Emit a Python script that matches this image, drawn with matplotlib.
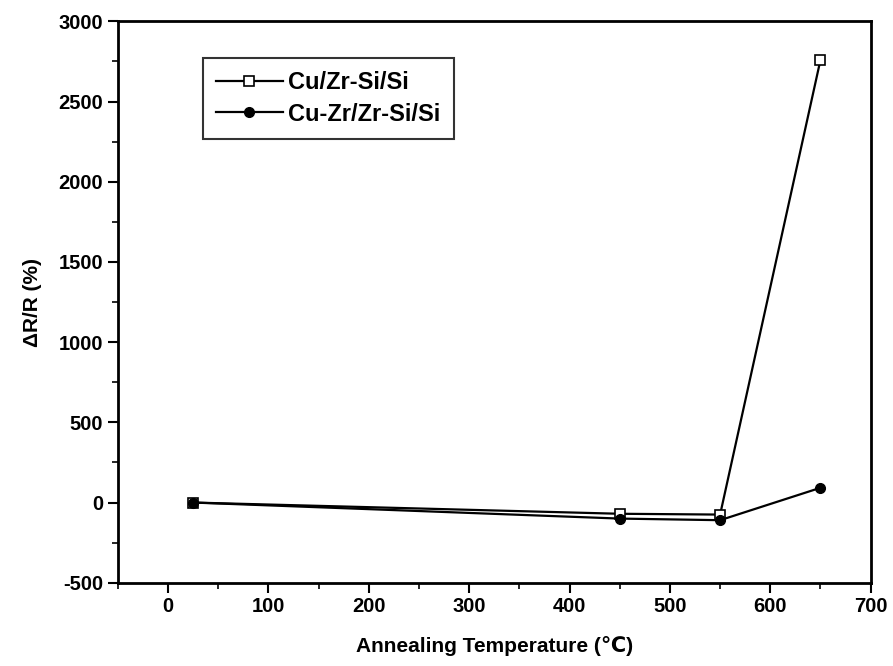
import matplotlib.pyplot as plt
from matplotlib.ticker import MultipleLocator

plt.rcParams['font.family'] = ['Liberation Sans', 'DejaVu Sans']
plt.rcParams['font.weight'] = 'bold'
plt.rcParams['axes.unicode_minus'] = False

# annealing temperatures and resistance change
temps = [25, 450, 550, 650]
cu_zrsi = [0, -70, -75, 2760]
cuzr_zrsi = [0, -100, -110, 92]

fig = plt.figure(figsize=(8.93, 6.66), dpi=100)
ax = fig.add_axes([0.132, 0.125, 0.843, 0.843])

ax.plot(temps, cu_zrsi, color='black', lw=1.6, marker='s', ms=7,
        mfc='white', mec='black', mew=1.2, label='Cu/Zr-Si/Si')
ax.plot(temps, cuzr_zrsi, color='black', lw=1.6, marker='o', ms=7,
        mfc='black', mec='black', label='Cu-Zr/Zr-Si/Si')

ax.set_xlim(-50, 700)
ax.set_ylim(-500, 3000)
ax.xaxis.set_major_locator(MultipleLocator(100))
ax.xaxis.set_minor_locator(MultipleLocator(50))
ax.yaxis.set_major_locator(MultipleLocator(500))
ax.yaxis.set_minor_locator(MultipleLocator(250))
ax.tick_params(which='major', direction='out', length=7, width=1.5,
               labelsize=14.5, top=False, right=False)
ax.tick_params(which='minor', direction='out', length=4, width=1.2,
               top=False, right=False)
for s in ax.spines.values():
    s.set_linewidth(2)

ax.set_xlabel('Annealing Temperature (℃)', fontsize=15, fontweight='bold', labelpad=14)
ax.set_ylabel('ΔR/R (%)', fontsize=15, fontweight='bold', labelpad=12)

leg = ax.legend(loc='upper left', bbox_to_anchor=(0.098, 0.955), fontsize=17,
                frameon=True, fancybox=False, edgecolor='black',
                handlelength=2.8, handletextpad=0.25, borderpad=0.55,
                labelspacing=0.35)
leg.get_frame().set_linewidth(1.5)

fig.savefig('out.png', dpi=100)
